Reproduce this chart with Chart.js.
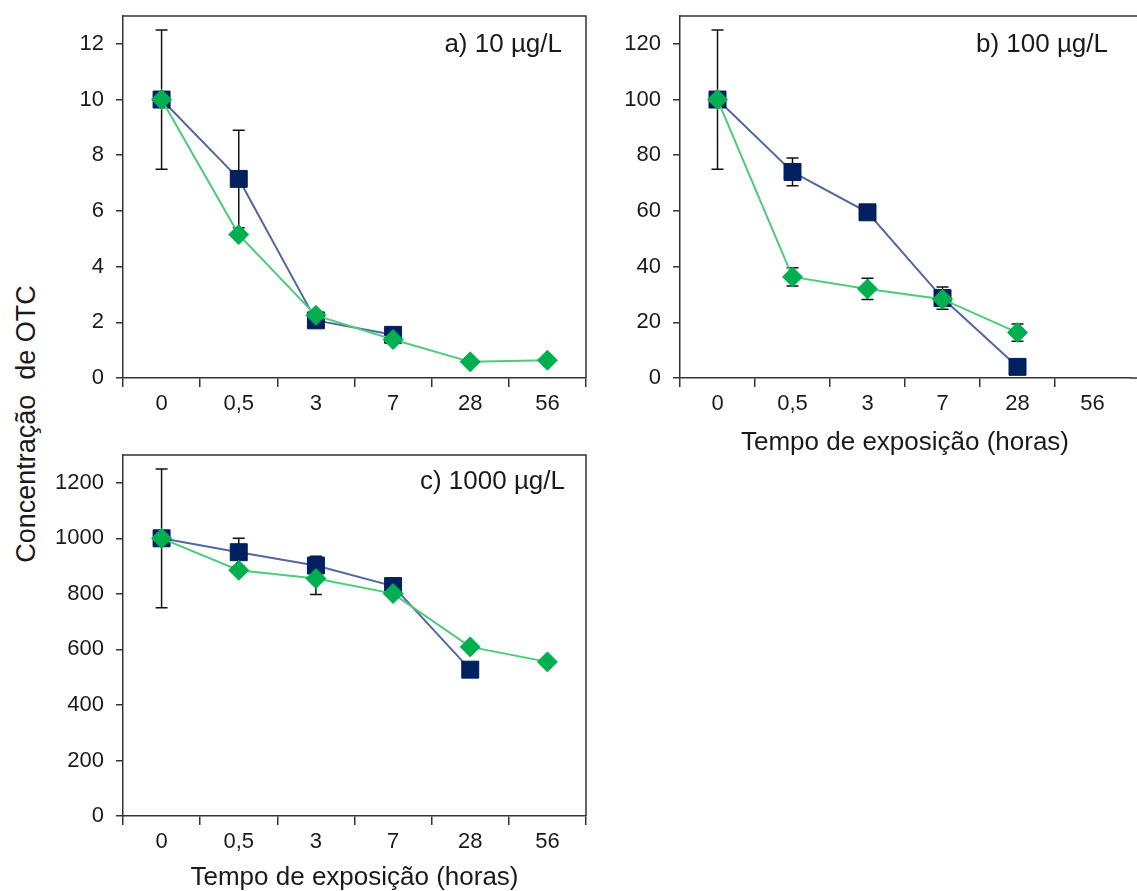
<!DOCTYPE html>
<html>
<head>
<meta charset="utf-8">
<script src="https://cdn.jsdelivr.net/npm/chart.js@4/dist/chart.umd.min.js"></script>
<style>
    html, body { margin: 0; padding: 0; background: #fff; overflow: hidden; }
    body { width: 1137px; height: 891px; position: relative; }
    canvas { position: absolute; }
    #yTitle {
        position: absolute; left: 26px; top: 424px;
        transform: translate(-50%, -50%) rotate(-90deg);
        white-space: pre; font: 27px 'Liberation Sans', Arial, sans-serif; color: #1a1a1a;
    }
</style>
</head>
<body>
<div id="yTitle">Concentração  de OTC</div>
<canvas id="chartA" width="600" height="430" style="left:0;top:0"></canvas>
<canvas id="chartB" width="543" height="460" style="left:600px;top:0"></canvas>
<canvas id="chartC" width="600" height="453" style="left:0;top:440px"></canvas>
<script>
    // tempo de exposição (horas)
    var horas = ['0', '0,5', '3', '7', '28', '56'];

    // a) 10 µg/L
    var azulA = [10, 7.15, 2.07, 1.55, null, null];
    var erroAzulA = [2.5, 1.75, 0, 0, 0, 0];
    var verdeA = [10, 5.15, 2.25, 1.38, 0.58, 0.64];
    var erroVerdeA = [0, 0, 0, 0, 0, 0];

    // b) 100 µg/L
    var azulB = [100, 74, 59.5, 28.7, 4, null];
    var erroAzulB = [25, 5, 0, 4, 0, 0];
    var verdeB = [100, 36.3, 32, 28.3, 16.3, null];
    var erroVerdeB = [0, 3.3, 3.8, 0, 3.1, 0];

    // c) 1000 µg/L
    var azulC = [1000, 950, 902, 828, 527, null];
    var erroAzulC = [250, 50, 33, 20, 0, 0];
    var verdeC = [1000, 885, 855, 801, 609, 555];
    var erroVerdeC = [0, 0, 57, 0, 0, 0];

    var FONT = "'Liberation Sans', Arial, sans-serif";
    var TEXT = '#1a1a1a';
    var AXIS = '#333333';

    // error bars drawn under the markers
    var errorBars = {
        id: 'errorBars',
        beforeDatasetsDraw: function (chart) {
            var ctx = chart.ctx;
            var x = chart.scales.x, y = chart.scales.y;
            ctx.save();
            ctx.strokeStyle = '#111';
            ctx.lineWidth = 1.5;
            chart.data.datasets.forEach(function (ds) {
                if (!ds.erros) return;
                ds.data.forEach(function (v, i) {
                    var e = ds.erros[i];
                    if (v === null || !e) return;
                    var px = x.getPixelForValue(i);
                    var top = y.getPixelForValue(v + e);
                    var bot = y.getPixelForValue(v - e);
                    ctx.beginPath();
                    ctx.moveTo(px, top); ctx.lineTo(px, bot);
                    ctx.moveTo(px - 6, top); ctx.lineTo(px + 6, top);
                    ctx.moveTo(px - 6, bot); ctx.lineTo(px + 6, bot);
                    ctx.stroke();
                });
            });
            ctx.restore();
        }
    };

    // top and right border of the plot box; an open box runs off the canvas edge
    function frame(open) {
        return {
            id: 'frame',
            afterDraw: function (chart) {
                var a = chart.chartArea, ctx = chart.ctx;
                ctx.save();
                ctx.strokeStyle = AXIS;
                ctx.lineWidth = 1.5;
                ctx.beginPath();
                ctx.moveTo(a.left, a.top);
                if (open) {
                    ctx.lineTo(chart.width, a.top);
                    ctx.moveTo(a.right, a.bottom);
                    ctx.lineTo(chart.width, a.bottom);
                } else {
                    ctx.lineTo(a.right, a.top);
                    ctx.lineTo(a.right, a.bottom);
                }
                ctx.stroke();
                ctx.restore();
            }
        };
    }

    function panelLabel(text, dx, dy) {
        return {
            id: 'panelLabel',
            afterDraw: function (chart) {
                var a = chart.chartArea, ctx = chart.ctx;
                ctx.save();
                ctx.font = '26px ' + FONT;
                ctx.fillStyle = TEXT;
                ctx.textAlign = 'right';
                ctx.textBaseline = 'middle';
                ctx.fillText(text, a.left + dx, a.top + dy);
                ctx.restore();
            }
        };
    }

    function drawPanel(id, cfg) {
        var ctx = document.getElementById(id).getContext('2d');
        return new Chart(ctx, {
            type: 'line',
            data: {
                labels: horas,
                datasets: [{
                    data: cfg.verde,
                    erros: cfg.erroVerde,
                    order: 0,
                    borderColor: '#4ccb7c',
                    borderWidth: 2,
                    pointStyle: 'rectRot',
                    pointRadius: 10,
                    pointBackgroundColor: '#00b050',
                    pointBorderColor: '#00b050',
                    pointBorderWidth: 1
                }, {
                    data: cfg.azul,
                    erros: cfg.erroAzul,
                    order: 1,
                    borderColor: '#5468a0',
                    borderWidth: 2,
                    pointStyle: 'rect',
                    pointRadius: 12,
                    pointBackgroundColor: '#002060',
                    pointBorderColor: '#002060',
                    pointBorderWidth: 1
                }]
            },
            options: {
                responsive: false,
                animation: false,
                layout: { padding: { top: cfg.padTop, right: cfg.padRight, left: 0, bottom: 0 } },
                plugins: { legend: { display: false }, tooltip: { enabled: false } },
                scales: {
                    x: {
                        type: 'category',
                        offset: true,
                        afterFit: function (s) { s.height = cfg.xHeight; },
                        grid: {
                            offset: true,
                            drawOnChartArea: false,
                            tickLength: 9,
                            lineWidth: 1.5,
                            // the closing boundary line has no tick context (index undefined)
                            color: function (c) { return cfg.open && c.index === undefined ? 'rgba(0,0,0,0)' : AXIS; }
                        },
                        border: { color: AXIS, width: 1.5 },
                        ticks: { color: TEXT, font: { family: FONT, size: 22 }, padding: 4, maxRotation: 0, autoSkip: false },
                        title: {
                            display: !!cfg.xTitle,
                            text: 'Tempo de exposição (horas)',
                            color: TEXT,
                            font: { family: FONT, size: 26 },
                            padding: { top: 0, bottom: cfg.titlePad || 0 }
                        }
                    },
                    y: {
                        min: 0,
                        max: cfg.yMax,
                        afterFit: function (s) {
                            s.width = cfg.yWidth;
                            s.paddingTop = 0;
                            s.paddingBottom = 0;
                        },
                        afterBuildTicks: function (s) {
                            s.ticks = s.ticks.filter(function (t) { return t.value <= cfg.yTop; });
                        },
                        grid: { drawOnChartArea: false, tickLength: 7, color: AXIS, lineWidth: 1.5 },
                        border: { color: AXIS, width: 1.5 },
                        ticks: {
                            stepSize: cfg.yStep,
                            color: TEXT,
                            font: { family: FONT, size: 22 },
                            padding: 12,
                            callback: function (v) { return String(v); }
                        }
                    }
                }
            },
            plugins: [errorBars, frame(cfg.open), panelLabel(cfg.label, cfg.labelDx, cfg.labelDy)]
        });
    }

    drawPanel('chartA', {
        azul: azulA, erroAzul: erroAzulA, verde: verdeA, erroVerde: erroVerdeA,
        yMax: 13, yTop: 12, yStep: 2, yWidth: 123, padTop: 16, padRight: 14, xHeight: 52,
        label: 'a) 10 µg/L', labelDx: 439, labelDy: 29
    });

    drawPanel('chartB', {
        azul: azulB, erroAzul: erroAzulB, verde: verdeB, erroVerde: erroVerdeB,
        yMax: 130, yTop: 120, yStep: 20, yWidth: 80, padTop: 16, padRight: 0, xHeight: 82,
        xTitle: true, titlePad: 2, open: true,
        label: 'b) 100 µg/L', labelDx: 428, labelDy: 29
    });

    drawPanel('chartC', {
        azul: azulC, erroAzul: erroAzulC, verde: verdeC, erroVerde: erroVerdeC,
        yMax: 1300, yTop: 1200, yStep: 200, yWidth: 123, padTop: 15, padRight: 14, xHeight: 77,
        xTitle: true, titlePad: 0,
        label: 'c) 1000 µg/L', labelDx: 442, labelDy: 27
    });
</script>
</body>
</html>
